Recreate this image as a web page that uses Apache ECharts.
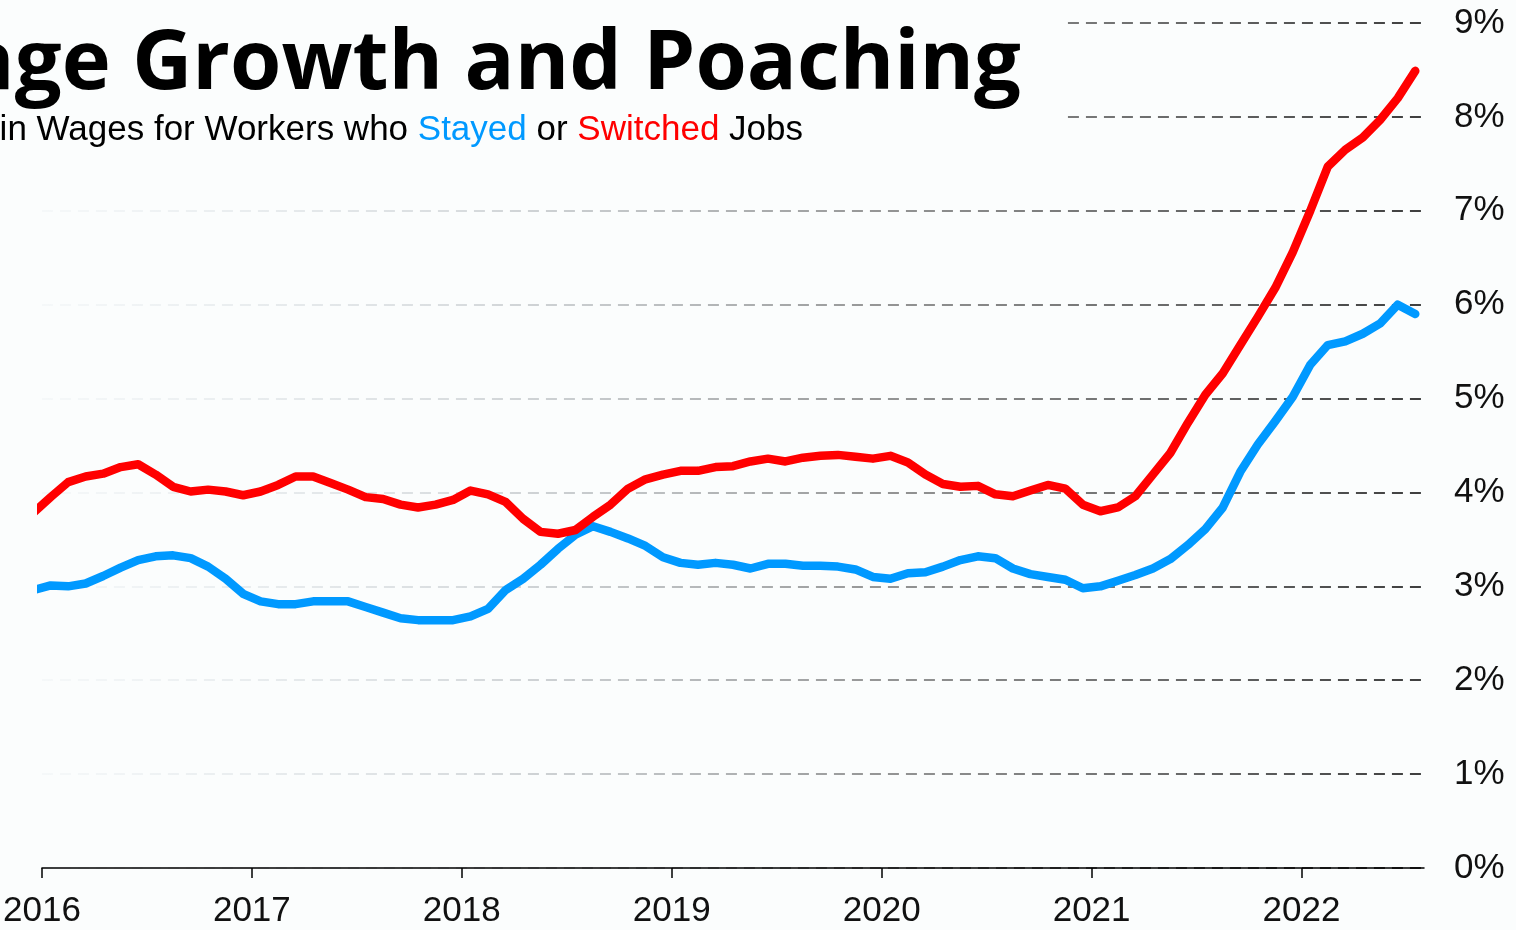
<!DOCTYPE html>
<html>
<head>
<meta charset="utf-8">
<script src="https://cdn.jsdelivr.net/npm/echarts@6/dist/echarts.min.js"></script>
<style>
html,body{margin:0;padding:0;background:#fbfdfd;}
#chart{width:1516px;height:930px;}
</style>
</head>
<body>
<div id="chart"></div>
<script>
// Monthly observations (YYYY-MM)
const months = [
 '2015-12',
 '2016-01','2016-02','2016-03','2016-04','2016-05','2016-06','2016-07','2016-08','2016-09','2016-10','2016-11','2016-12',
 '2017-01','2017-02','2017-03','2017-04','2017-05','2017-06','2017-07','2017-08','2017-09','2017-10','2017-11','2017-12',
 '2018-01','2018-02','2018-03','2018-04','2018-05','2018-06','2018-07','2018-08','2018-09','2018-10','2018-11','2018-12',
 '2019-01','2019-02','2019-03','2019-04','2019-05','2019-06','2019-07','2019-08','2019-09','2019-10','2019-11','2019-12',
 '2020-01','2020-02','2020-03','2020-04','2020-05','2020-06','2020-07','2020-08','2020-09','2020-10','2020-11','2020-12',
 '2021-01','2021-02','2021-03','2021-04','2021-05','2021-06','2021-07','2021-08','2021-09','2021-10','2021-11','2021-12',
 '2022-01','2022-02','2022-03','2022-04','2022-05','2022-06','2022-07'
];
// Wage growth (%) for job switchers
const switched = [
 3.78,
 3.95,4.11,4.17,4.20,4.27,4.30,4.19,4.06,4.01,4.03,4.01,3.97,
 4.01,4.08,4.17,4.17,4.10,4.03,3.95,3.93,3.87,3.84,3.87,3.92,
 4.02,3.98,3.90,3.72,3.58,3.56,3.60,3.74,3.87,4.04,4.14,4.19,
 4.23,4.23,4.27,4.28,4.33,4.36,4.33,4.37,4.39,4.40,4.38,4.36,
 4.39,4.32,4.19,4.09,4.06,4.07,3.98,3.96,4.02,4.08,4.04,3.87,
 3.80,3.84,3.96,4.19,4.42,4.74,5.04,5.27,5.57,5.87,6.18,6.56,
 7.00,7.47,7.65,7.78,7.97,8.20,8.49
];
// Wage growth (%) for job stayers
const stayed = [
 2.96,
 3.01,3.00,3.03,3.11,3.20,3.28,3.32,3.33,3.30,3.21,3.08,2.92,
 2.84,2.81,2.81,2.84,2.84,2.84,2.78,2.72,2.66,2.64,2.64,2.64,
 2.68,2.76,2.96,3.08,3.23,3.40,3.55,3.64,3.58,3.51,3.43,3.31,
 3.25,3.23,3.25,3.23,3.19,3.24,3.24,3.22,3.22,3.21,3.18,3.10,
 3.08,3.14,3.15,3.21,3.28,3.32,3.30,3.19,3.13,3.10,3.07,2.98,
 3.00,3.06,3.12,3.19,3.29,3.44,3.61,3.84,4.22,4.51,4.76,5.02,
 5.36,5.57,5.61,5.69,5.80,6.00,5.90
];
const yearTicks = [2016,2017,2018,2019,2020,2021,2022];
const pctTicks = [0,1,2,3,4,5,6,7,8,9];

const BG = '#fbfdfd';
const BLUE = '#0099ff';
const RED = '#ff0000';

function toYear(m){ const [y,mo]=m.split('-').map(Number); return y + (mo-0.5)/12; }
const switchedData = months.map((m,i)=>[toYear(m), switched[i]]);
const stayedData = months.map((m,i)=>[toYear(m), stayed[i]]);

const chart = echarts.init(document.getElementById('chart'), null, {renderer:'canvas'});
const gridGrad = new echarts.graphic.LinearGradient(40,0,1424,0,[
  {offset:0, color:'rgba(150,170,185,0.08)'},
  {offset:0.3, color:'rgba(110,120,130,0.32)'},
  {offset:0.6, color:'rgba(60,60,60,0.7)'},
  {offset:0.8, color:'rgba(30,30,30,0.85)'},
  {offset:1, color:'rgba(0,0,0,1)'}
], true);

chart.setOption({
  backgroundColor: BG,
  animation: false,
  grid: {left:40, right:92, top:23, bottom:62, containLabel:false},
  xAxis: {
    type:'value', min:2016, max:2022+7/12, interval:1,
    axisLine:{show:true, lineStyle:{color:'#000', width:1.5}},
    axisTick:{show:true, length:10, lineStyle:{color:'#000', width:1.5}, customValues: yearTicks},
    axisLabel:{customValues: yearTicks, formatter: v => String(v), fontFamily:'Liberation Sans', fontSize:35, color:'#111', margin:26},
    splitLine:{show:false}
  },
  yAxis: {
    type:'value', position:'right', min:0, max:9, interval:1,
    axisLine:{show:false}, axisTick:{show:false},
    axisLabel:{customValues: pctTicks, formatter: v => v + '%', fontFamily:'Liberation Sans', fontSize:35, color:'#111', margin:30},
    splitLine:{show:true, lineStyle:{color: gridGrad, width:1.5, type:[11,7]}}
  },
  series: [
    {type:'line', name:'Stayed', data: stayedData, showSymbol:false, clip:true,
     lineStyle:{color:BLUE, width:8.5, cap:'round', join:'round'}, z:3},
    {type:'line', name:'Switched', data: switchedData, showSymbol:false, clip:true,
     lineStyle:{color:RED, width:8.5, cap:'round', join:'round'}, z:4}
  ],
  graphic: [
    {type:'rect', z:50, shape:{x:0,y:0,width:1062,height:160}, style:{fill:BG}},
    {type:'text', z:51, x:1021, y:65, style:{text:'Wage Growth and Poaching', align:'right', verticalAlign:'middle',
      font:'bold 83px "Open Sans"', fill:'#000'}},
    {type:'text', z:51, x:803, y:130, style:{text:'in Wages for Workers who {b|Stayed} or {r|Switched} Jobs', align:'right', verticalAlign:'middle',
      font:'35px "Liberation Sans"', fill:'#000',
      rich:{b:{fill:BLUE, font:'35px "Liberation Sans"'}, r:{fill:RED, font:'35px "Liberation Sans"'}}}}
  ]
});
</script>
</body>
</html>
